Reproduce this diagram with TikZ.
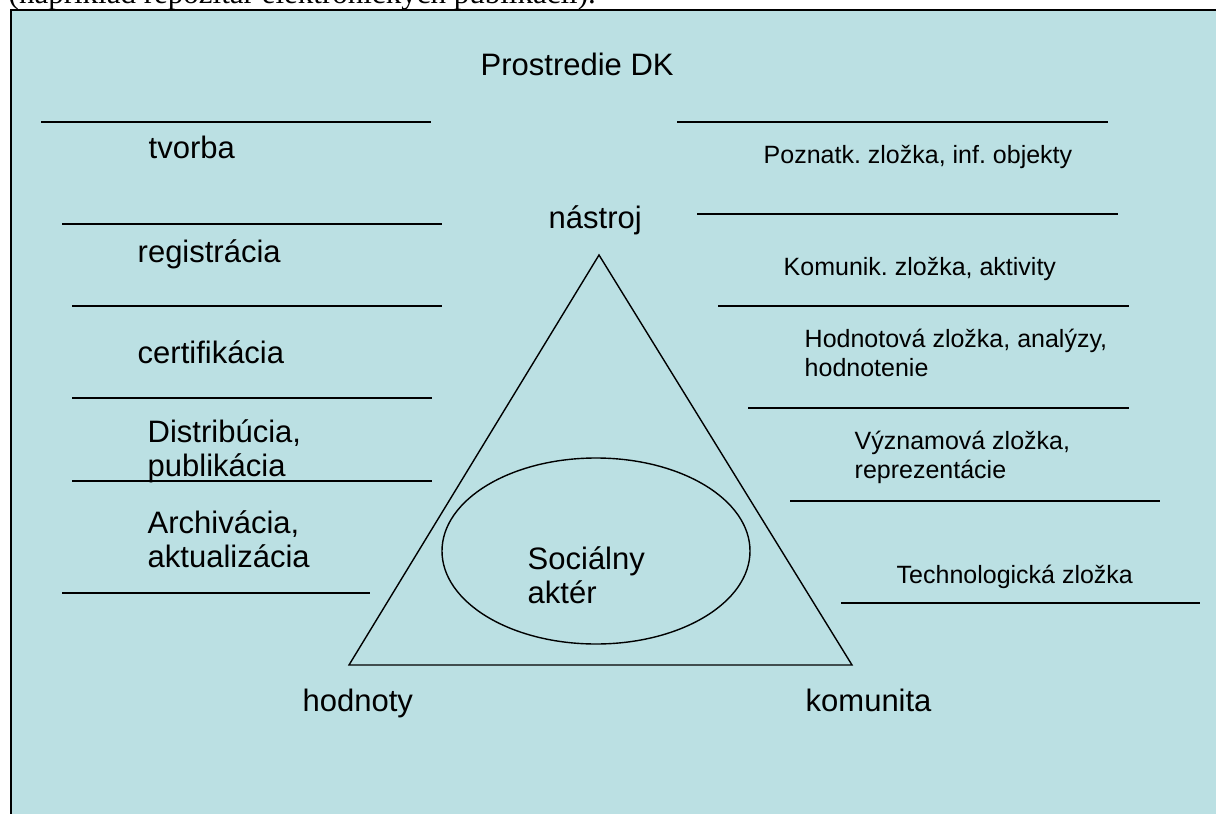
\documentclass[tikz,border=0pt]{standalone}
\usepackage{fontspec}
\setmainfont{Liberation Sans}
\newfontfamily\timesfont{Liberation Serif}
\definecolor{dkbg}{RGB}{187,224,227}
\frenchspacing

\begin{document}
\begin{tikzpicture}[x=0.5pt, y=-0.5pt, line width=0.7pt,
	big/.style={inner sep=0pt, anchor=base west, align=left, font=\fontsize{15.5}{16.75}\selectfont},
	small/.style={inner sep=0pt, anchor=base west, align=left, font=\fontsize{12.5}{14.5}\selectfont}]
	\useasboundingbox (0,0) rectangle (1216,814);

	% page text, cut off above the figure
	\node[inner sep=0pt, anchor=base west, font=\timesfont\fontsize{15.5}{18}\selectfont] (caption) at (8,3) {(napríklad repozitár elektronických publikácií).};

	\draw[fill=dkbg, line width=1pt] (10.5,9.5) rectangle (1240,840);

	% rules, left and right
	\foreach \y/\a/\b in {122/41/431, 224/62/442, 306/72/442, 398/72/432, 481/72/432, 593/62/370}
		\draw (\a,\y) -- (\b,\y);
	\foreach \y/\a/\b in {122/677/1108, 214/697/1118, 306/718/1129, 408/748/1129, 501/790/1160, 603/841/1200}
		\draw (\a,\y) -- (\b,\y);

	% triangle and actor (two-line labels sit on their last baseline)
	\coordinate (apex) at (599,255);
	\coordinate (bl) at (349,665);
	\coordinate (br) at (852,665);
	\draw (apex) -- (bl) -- (br) -- cycle;
	\draw (596,551) ellipse [x radius=154, y radius=93];
	\node[big] (akter) at (527,603) {Sociálny\\aktér};

	\node[big] (prostredie) at (480,75) {Prostredie DK};
	\node[big] (nastroj) at (548,228) {nástroj};
	\node[big] (hodnoty) at (302,711) {hodnoty};
	\node[big] (komunita) at (805,711) {komunita};

	\node[big] (tvorba) at (148,158) {tvorba};
	\node[big] (registracia) at (137,262) {registrácia};
	\node[big] (certifikacia) at (137,363) {certifikácia};
	\node[big] (distribucia) at (147,476) {Distribúcia,\\publikácia};
	\node[big] (archivacia) at (147,567) {Archivácia,\\aktualizácia};

	\node[small] (poznatk) at (763,163) {Poznatk. zložka, inf. objekty};
	\node[small] (komunik) at (783,275) {Komunik. zložka, aktivity};
	\node[small] (hodnotova) at (804,376) {Hodnotová zložka, analýzy,\\hodnotenie};
	\node[small] (vyznamova) at (854,478) {Významová zložka,\\reprezentácie};
	\node[small] (techno) at (896,583) {Technologická zložka};
\end{tikzpicture}
\end{document}
